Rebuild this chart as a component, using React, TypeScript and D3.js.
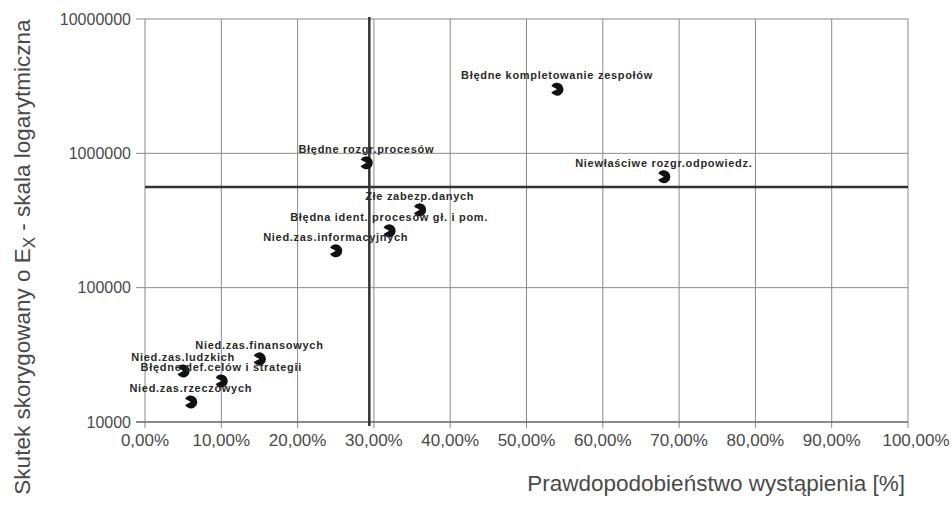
import React from "react";
import * as d3 from "d3";

// risk names, probability (fraction), corrected impact
const names = [
  "Błędne kompletowanie zespołów",
  "Błędne rozgr.procesów",
  "Niewłaściwe rozgr.odpowiedz.",
  "Złe zabezp.danych",
  "Błędna ident. procesów gł. i pom.",
  "Nied.zas.informacyjnych",
  "Nied.zas.finansowych",
  "Nied.zas.ludzkich",
  "Błędne def.celów i strategii",
  "Nied.zas.rzeczowych",
];
const probability = [0.54, 0.29, 0.68, 0.36, 0.32, 0.25, 0.15, 0.05, 0.1, 0.06];
const impact = [3000000, 850000, 670000, 380000, 265000, 188000, 29500, 24000, 20200, 14100];

const xTicks = [0, 0.1, 0.2, 0.3, 0.4, 0.5, 0.6, 0.7, 0.8, 0.9, 1];
const yTicks = [10000, 100000, 1000000, 10000000];
const thresholdX = 0.294;
const thresholdY = 561000;

const W = 951;
const H = 505;
const margin = { left: 145, right: 43, top: 19, bottom: 83 };

export default function App() {
  const x = d3
    .scaleLinear()
    .domain([0, 1])
    .range([margin.left, W - margin.right]);
  const y = d3
    .scaleLog()
    .domain([10000, 10000000])
    .range([H - margin.bottom, margin.top]);

  const fmtX = (v: number) => (v * 100).toFixed(2).replace(".", ",") + "%";
  const marker = d3
    .arc()
    .innerRadius(0)
    .outerRadius(6.5)
    .startAngle(-Math.PI / 2 + 0.5)
    .endAngle((3 * Math.PI) / 2 - 0.5);
  const markerPath = marker({} as any) as string;

  const axisColor = "#8a8a8a";
  const textColor = "#4a4a4a";
  const bottom = H - margin.bottom;

  return (
    <svg
      width={W}
      height={H}
      style={{ position: "absolute", left: 0, top: 0, background: "#fff" }}
      fontFamily="'Liberation Sans', Arial, sans-serif"
    >
      {/* grid */}
      {xTicks.map((t) => (
        <line
          key={"gx" + t}
          x1={x(t)}
          x2={x(t)}
          y1={margin.top}
          y2={bottom + 6}
          stroke={axisColor}
          strokeWidth={1}
        />
      ))}
      {yTicks.map((t) => (
        <line
          key={"gy" + t}
          x1={x(0) - 9}
          x2={x(1)}
          y1={y(t)}
          y2={y(t)}
          stroke={t === 10000 ? "#666" : axisColor}
          strokeWidth={t === 10000 ? 1.5 : 1}
        />
      ))}

      {/* tick labels */}
      {yTicks.map((t) => (
        <text
          key={"ly" + t}
          x={x(0) - 14}
          y={y(t)}
          dy="0.35em"
          textAnchor="end"
          fontSize={16}
          fill={textColor}
        >
          {t}
        </text>
      ))}
      {xTicks.map((t) => (
        <text
          key={"lx" + t}
          x={t === 1 ? x(t) + 8 : x(t)}
          y={bottom + 24}
          textAnchor="middle"
          fontSize={17}
          fill={textColor}
        >
          {fmtX(t)}
        </text>
      ))}

      {/* threshold lines */}
      <line
        x1={x(thresholdX)}
        x2={x(thresholdX)}
        y1={margin.top - 2}
        y2={bottom + 4}
        stroke="#333"
        strokeWidth={2.5}
      />
      <line
        x1={x(0)}
        x2={x(1)}
        y1={y(thresholdY)}
        y2={y(thresholdY)}
        stroke="#333"
        strokeWidth={2.5}
      />

      {/* points */}
      {names.map((n, i) => (
        <g key={n} transform={`translate(${x(probability[i])},${y(impact[i])})`}>
          <path d={markerPath} fill="#111" />
          <text
            y={-10}
            textAnchor="middle"
            fontSize={11}
            fontWeight="bold"
            letterSpacing={0.7}
            fill="#2a2a2a"
          >
            {n}
          </text>
        </g>
      ))}

      {/* axis titles */}
      <text
        transform={`translate(30,257) rotate(-90)`}
        textAnchor="middle"
        fontSize={22.5}
        fill={textColor}
      >
        Skutek skorygowany o E
        <tspan fontSize={17} dy={5}>
          X
        </tspan>
        <tspan dy={-5}> - skala logarytmiczna</tspan>
      </text>
      <text
        x={905}
        y={491}
        textAnchor="end"
        fontSize={22.5}
        fill={textColor}
      >
        Prawdopodobieństwo wystąpienia [%]
      </text>
    </svg>
  );
}
